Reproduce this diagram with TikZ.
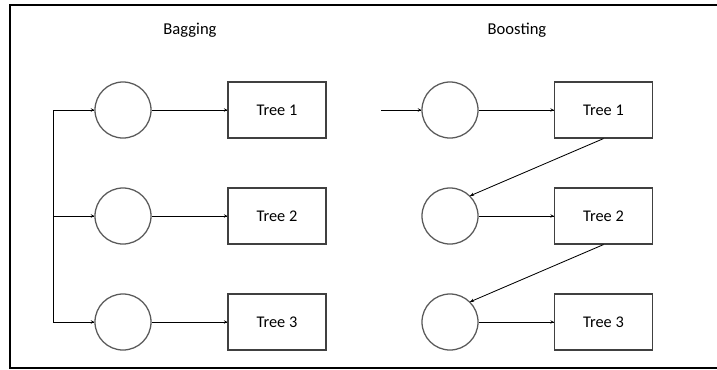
\documentclass[tikz,border=0pt]{standalone}
\usepackage{fontspec}
\setmainfont{Carlito}
\tikzset{->/.style = {decoration={markings, mark=at position 1 with {\arrow[scale=0.7]{stealth}}}, postaction={decorate}}}
\tikzset{tree/.style = {draw=black!75, line width=0.8pt, minimum width=2.45cm, minimum height=1.4cm, inner sep=0pt},
         sample/.style = {draw=black!65, line width=0.9pt, circle, minimum size=1.4cm, inner sep=0pt},
         heading/.style = {font=\fontsize{11.8}{14}\selectfont}}
\usetikzlibrary{decorations.markings}

\begin{document}
\begin{tikzpicture}[x=0.025cm, y=-0.025cm, font=\fontsize{11.6}{14}\selectfont, line width=0.6pt]
\useasboundingbox (0,0) rectangle (717,369);
	\draw [line width=1.5pt] (717,5) -- (10,5) -- (10,368) -- (717,368);
\node [heading] (bag) at (190,30) {Bagging};
\node [heading] (boost) at (517,30) {Boosting};
% bagging: one split, three independent trees
\foreach \i/\y in {1/110, 2/216, 3/322} {
	\coordinate (b\i) at (53,\y);
	\node [sample] (bc\i) at (123,\y) {};
	\node [tree] (bt\i) at (277,\y) {Tree \i};
	\draw [->] (b\i) -- (bc\i);
	\draw [->] (bc\i) -- (bt\i);
}
\draw (b1) -- (b3);
% boosting: each tree feeds the next sample
\coordinate (kin) at (381,110);
\foreach \i/\y in {1/110, 2/216, 3/322} {
	\node [sample] (kc\i) at (450,\y) {};
	\node [tree] (kt\i) at (603.5,\y) {Tree \i};
	\draw [->] (kc\i) -- (kt\i);
}
\draw [->] (kin) -- (kc1);
\draw [->] (kt1.south) -- (kc2.north east);
\draw [->] (kt2.south) -- (kc3.north east);
\end{tikzpicture}
\end{document}
